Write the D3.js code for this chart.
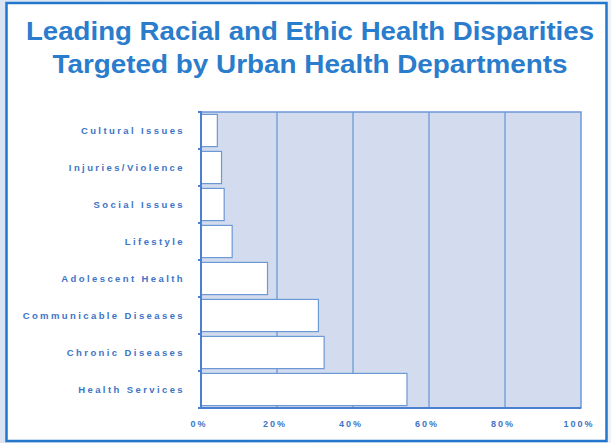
<!DOCTYPE html>
<html>
<head>
<meta charset="utf-8">
<script src="https://cdn.jsdelivr.net/npm/d3@7"></script>
<style>
  html, body { margin: 0; padding: 0; background: #ffffff; }
  svg { display: block; }
</style>
</head>
<body>
<svg id="chart" width="611" height="443"></svg>
<script>
const titleLines = ["Leading Racial and Ethic Health Disparities", "Targeted by Urban Health Departments"];
const categories = ["Cultural Issues", "Injuries/Violence", "Social Issues", "Lifestyle", "Adolescent Health", "Communicable Diseases", "Chronic Diseases", "Health Services"];
const values = [4.3, 5.4, 6.1, 8.2, 17.5, 30.9, 32.4, 54.2];
const xTicks = [0, 20, 40, 60, 80, 100];
const xTickLabels = ["0%", "20%", "40%", "60%", "80%", "100%"];

const svg = d3.select("#chart");
const W = 611, H = 443;
const blue = "#2277cc";
const axisBlue = "#4a80cf";
const textBlue = "#3d74c6";

// outer background
const grad = svg.append("defs").append("linearGradient").attr("id", "bg").attr("x1", 0).attr("x2", 1).attr("y1", 0).attr("y2", 0);
grad.append("stop").attr("offset", "0").attr("stop-color", "#dbe4f2");
grad.append("stop").attr("offset", "1").attr("stop-color", "#eef2f8");
svg.append("rect").attr("width", W).attr("height", H).attr("fill", "url(#bg)");

// framed white panel
svg.append("rect").attr("x", 6.5).attr("y", 3).attr("width", 600).attr("height", 438)
  .attr("fill", "#ffffff").attr("stroke", blue).attr("stroke-width", 2.5);

// title
const titleWidths = [568, 515];
svg.selectAll("text.title").data(titleLines).join("text")
  .attr("class", "title")
  .attr("x", 310).attr("y", (d, i) => 39.5 + i * 33.3)
  .attr("text-anchor", "middle")
  .attr("font-family", "Liberation Sans, Arial, sans-serif")
  .attr("font-size", 25.5)
  .attr("font-weight", "bold")
  .attr("textLength", (d, i) => titleWidths[i])
  .attr("lengthAdjust", "spacingAndGlyphs")
  .attr("fill", "#2a7ccc")
  .text(d => d);

const m = { left: 201, right: 581, top: 112, bottom: 408 };
const x = d3.scaleLinear().domain([0, 100]).range([m.left, m.right]);
const y = d3.scaleBand().domain(categories).range([m.top, m.bottom]).paddingInner(0.13).paddingOuter(0.065);

// plot background
svg.append("rect").attr("x", x(0)).attr("y", m.top).attr("width", x(100) - x(0)).attr("height", m.bottom - m.top)
  .attr("fill", "#d2dcee").attr("stroke", "#6d98d6").attr("stroke-width", 1.5);

// gridlines
svg.append("g").selectAll("line").data(xTicks.filter(t => t > 0 && t < 100)).join("line")
  .attr("x1", d => x(d)).attr("x2", d => x(d)).attr("y1", m.top).attr("y2", m.bottom)
  .attr("stroke", "#6d98d6").attr("stroke-width", 1.3);

// bars
svg.append("g").selectAll("rect").data(categories).join("rect")
  .attr("x", x(0))
  .attr("y", d => y(d))
  .attr("width", (d, i) => x(values[i]) - x(0))
  .attr("height", y.bandwidth())
  .attr("fill", "#ffffff")
  .attr("stroke", "#6d98d6").attr("stroke-width", 1.2);

// y axis line and ticks between bands
const boundaries = d3.range(categories.length + 1).map(i => m.top + (m.bottom - m.top) * i / categories.length);
svg.append("line").attr("x1", x(0)).attr("x2", x(0)).attr("y1", m.top).attr("y2", m.bottom)
  .attr("stroke", axisBlue).attr("stroke-width", 2);
svg.append("g").selectAll("line").data(boundaries).join("line")
  .attr("x1", x(0) - 3).attr("x2", x(0) + 1).attr("y1", d => d).attr("y2", d => d)
  .attr("stroke", axisBlue).attr("stroke-width", 2);

// x axis line
svg.append("line").attr("x1", x(0) - 3).attr("x2", x(100)).attr("y1", m.bottom).attr("y2", m.bottom)
  .attr("stroke", axisBlue).attr("stroke-width", 2);

// category labels
svg.append("g").selectAll("text").data(categories).join("text")
  .attr("x", 185)
  .attr("y", d => y(d) + y.bandwidth() / 2 + 3.5)
  .attr("text-anchor", "end")
  .attr("font-family", "Liberation Sans, Arial, sans-serif")
  .attr("font-size", 9.5)
  .attr("font-weight", "bold")
  .attr("letter-spacing", 2.4)
  .attr("fill", textBlue)
  .text(d => d);

// x tick labels
svg.append("g").selectAll("text").data(xTicks).join("text")
  .attr("x", d => x(d) - 2)
  .attr("y", 426.5)
  .attr("text-anchor", "middle")
  .attr("font-family", "Liberation Sans, Arial, sans-serif")
  .attr("font-size", 9)
  .attr("font-weight", "bold")
  .attr("letter-spacing", 2)
  .attr("fill", textBlue)
  .text((d, i) => xTickLabels[i]);
</script>
</body>
</html>
